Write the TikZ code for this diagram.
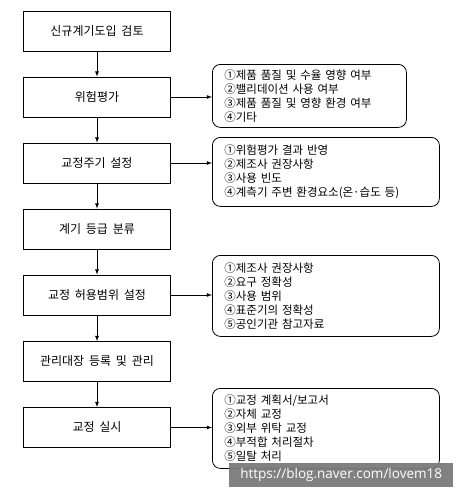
\documentclass[tikz,border=0pt]{standalone}
\usepackage{fontspec}
\setmainfont{Noto Sans CJK KR}[WordSpace=1.8]
\newfontfamily\wmfont{Open Sans}
\begin{document}
\begin{tikzpicture}[x=1pt, y=-1pt,
    procbox/.style={draw, thick, minimum width=147pt, minimum height=40pt, font=\fontsize{12}{13}\selectfont},
    notebox/.style={draw, thick, rounded corners=8pt, align=left, anchor=north west, inner xsep=12pt, inner ysep=0pt, font=\fontsize{11.5}{14}\selectfont},
    flow/.style={thick, -latex}]
    % Canvas
    \useasboundingbox (0,0) rectangle (458,488);

    % Main procedure boxes
    \node[procbox] (review) at (97,31) {신규계기도입 검토};
    \node[procbox] (risk) at (97,97) {위험평가};
    \node[procbox] (cycle) at (97,163) {교정주기 설정};
    \node[procbox] (grade) at (97,229) {계기 등급 분류};
    \node[procbox] (range) at (97,295) {교정 허용범위 설정};
    \node[procbox] (ledger) at (97,361.5) {관리대장 등록 및 관리};
    \node[procbox] (perform) at (97,427.5) {교정 실시};

    % Detail boxes
    \node[notebox, text width=170pt, minimum height=63pt] (riskinfo) at (212,64) {①제품 품질 및 수율 영향 여부\\②밸리데이션 사용 여부\\③제품 품질 및 영향 환경 여부\\④기타};
    \node[notebox, text width=203pt, minimum height=69pt] (cycleinfo) at (212,137) {①위험평가 결과 반영\\②제조사 권장사항\\③사용 빈도\\④계측기 주변 환경요소(온·습도 등)};
    \node[notebox, text width=203pt, minimum height=81pt] (rangeinfo) at (212,255) {①제조사 권장사항\\②요구 정확성\\③사용 범위\\④표준기의 정확성\\⑤공인기관 참고자료};
    \node[notebox, text width=203pt, minimum height=80pt] (performinfo) at (212,388) {①교정 계획서/보고서\\②자체 교정\\③외부 위탁 교정\\④부적합 처리절차\\⑤일탈 처리};

    % Flow arrows
    \draw[flow] (review) -- (risk);
    \draw[flow] (risk) -- (cycle);
    \draw[flow] (cycle) -- (grade);
    \draw[flow] (grade) -- (range);
    \draw[flow] (range) -- (ledger);
    \draw[flow] (ledger) -- (perform);

    % Arrows to details
    \draw[flow] (risk.east) -- (risk.east -| riskinfo.west);
    \draw[flow] (cycle.east) -- (cycle.east -| cycleinfo.west);
    \draw[flow] (range.east) -- (range.east -| rangeinfo.west);
    \draw[flow] (perform.east) -- (perform.east -| performinfo.west);

    % Watermark
    \node[fill=black!52, fill opacity=0.95, text opacity=1, text=white, minimum width=224pt, minimum height=24pt, anchor=north west, font=\wmfont\fontsize{13.5}{14}\selectfont] (mark) at (229,463) {https://blog.naver.com/lovem18};
\end{tikzpicture}
\end{document}
